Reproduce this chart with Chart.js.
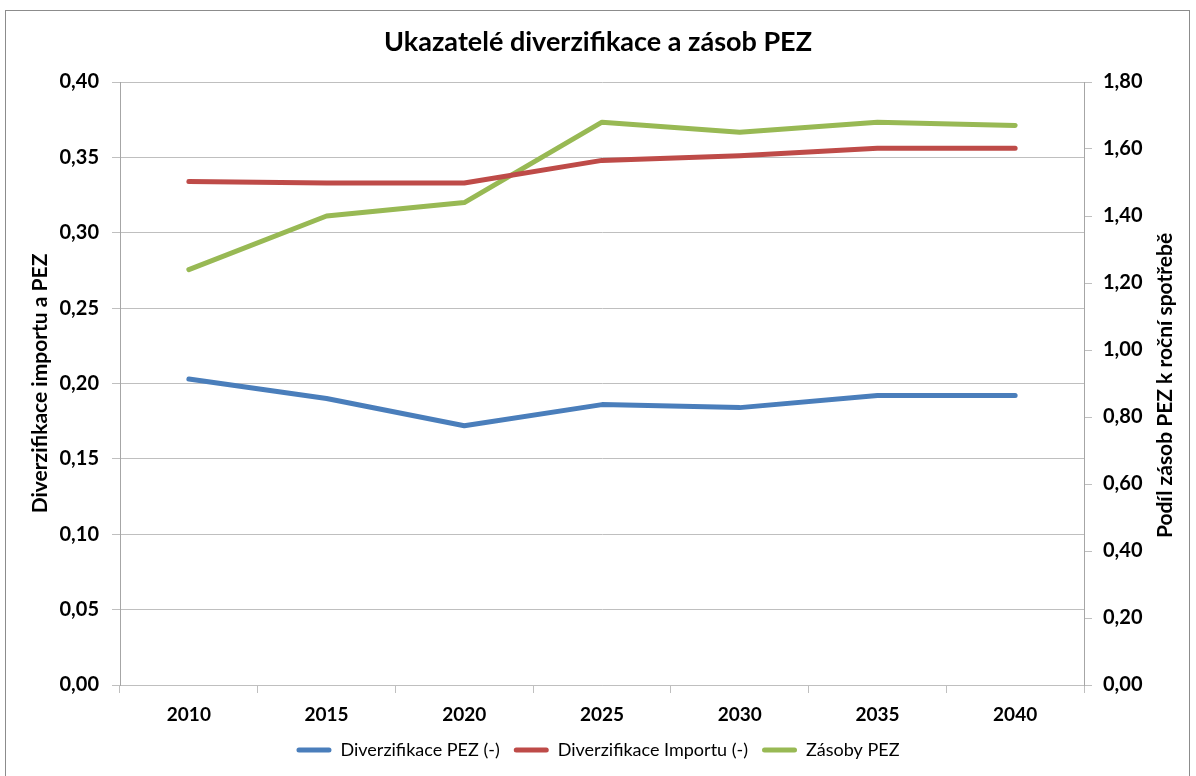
<!DOCTYPE html>
<html><head><meta charset="utf-8">
<script src="https://cdn.jsdelivr.net/npm/chart.js@4"></script>
<style>
html,body{margin:0;padding:0;background:#fff;}
#wrap{position:relative;width:1196px;height:776px;overflow:hidden;}
#frame{position:absolute;left:5px;top:10px;width:1185px;height:800px;border:1px solid #8c8c8c;box-sizing:border-box;}
canvas{position:absolute;left:0;top:0;}
</style></head><body>
<div id="wrap"><div id="frame"></div><canvas id="c" width="1196" height="776"></canvas></div>
<script>
const categories = ['2010', '2015', '2020', '2025', '2030', '2035', '2040'];
const diverzifikacePEZ = [0.203, 0.190, 0.172, 0.186, 0.184, 0.192, 0.192];
const diverzifikaceImportu = [0.334, 0.333, 0.333, 0.348, 0.351, 0.356, 0.356];
const zasobyPEZ = [1.24, 1.40, 1.44, 1.68, 1.65, 1.68, 1.67];
const seriesNames = ['Diverzifikace PEZ (-)', 'Diverzifikace Importu (-)', 'Zásoby PEZ'];
const leftAxisRange = [0, 0.40, 0.05];
const rightAxisRange = [0, 1.80, 0.20];
const titleText = 'Ukazatelé diverzifikace a zásob PEZ';
const leftAxisTitle = 'Diverzifikace importu a PEZ';
const rightAxisTitle = 'Podíl zásob PEZ k roční spotřebě';

const fmt = v => Number(v).toFixed(2).replace('.', ',');
Chart.defaults.font.family = 'Lato';
Chart.defaults.color = '#000';

const rightTitlePlugin = {
  id: 'rightTitle',
  afterDraw(chart) {
    const ctx = chart.ctx;
    const s = chart.scales.y1;
    ctx.save();
    ctx.translate(s.right - 31, (chart.chartArea.top + chart.chartArea.bottom) / 2 + 2);
    ctx.rotate(-Math.PI / 2);
    ctx.font = 'bold 21px Lato';
    ctx.fillStyle = '#000';
    ctx.textAlign = 'center';
    ctx.textBaseline = 'middle';
    ctx.fillText(rightAxisTitle, 0, 0);
    ctx.restore();
  }
};

const mk = (label, data, color, axis) => ({
  label, data, yAxisID: axis,
  borderColor: color, backgroundColor: color,
  borderWidth: 5, pointRadius: 0, pointHoverRadius: 0, tension: 0,
  borderCapStyle: 'round', borderJoinStyle: 'round', fill: false
});

new Chart(document.getElementById('c'), {
  type: 'line',
  data: {
    labels: categories,
    datasets: [
      mk(seriesNames[0], diverzifikacePEZ, '#4A7EBB', 'y'),
      mk(seriesNames[1], diverzifikaceImportu, '#BE4B48', 'y'),
      mk(seriesNames[2], zasobyPEZ, '#98B954', 'y1')
    ]
  },
  options: {
    responsive: false,
    animation: false,
    devicePixelRatio: 1,
    layout: { padding: { top: 26, left: 0, right: 0, bottom: 7 } },
    plugins: {
      title: {
        display: true, text: titleText,
        font: { size: 27, weight: 'bold' }, color: '#000',
        padding: { top: 0, bottom: 23.6 }
      },
      legend: {
        position: 'bottom',
        labels: {
          boxWidth: 35, boxHeight: 5, padding: 14,
          font: { size: 18 }, color: '#000',
          generateLabels(chart) {
            const items = Chart.defaults.plugins.legend.labels.generateLabels(chart);
            items.forEach(it => { it.lineWidth = 0; it.borderRadius = 2.5; });
            return items;
          }
        }
      },
      tooltip: { enabled: false }
    },
    scales: {
      x: {
        type: 'category', offset: true,
        grid: { offset: true, drawOnChartArea: false, drawTicks: true, tickLength: 8, color: '#BFBFBF' },
        border: { color: '#BFBFBF' },
        ticks: { font: { size: 19, weight: 'bold' }, color: '#000', padding: 10, maxRotation: 0 },
        afterFit(s) { s.height = 42; }
      },
      y: {
        position: 'left',
        min: leftAxisRange[0], max: leftAxisRange[1],
        grid: { color: '#BFBFBF', tickLength: 8 },
        border: { color: '#A6A6A6' },
        ticks: { stepSize: leftAxisRange[2], callback: fmt, font: { size: 20, weight: 'bold' }, color: '#000', padding: 13 },
        title: { display: true, text: leftAxisTitle, font: { size: 21, weight: 'bold' }, color: '#000', padding: { top: 27.4, bottom: 0 } },
        afterFit(s) { s.width = 120; }
      },
      y1: {
        position: 'right',
        min: rightAxisRange[0], max: rightAxisRange[1],
        grid: { drawOnChartArea: false, color: '#BFBFBF', tickLength: 8 },
        border: { color: '#A6A6A6' },
        ticks: { stepSize: rightAxisRange[2], callback: fmt, font: { size: 20, weight: 'bold' }, color: '#000', padding: 11 },
        afterFit(s) { s.width = 112; }
      }
    }
  },
  plugins: [rightTitlePlugin]
});
</script>
</body></html>
